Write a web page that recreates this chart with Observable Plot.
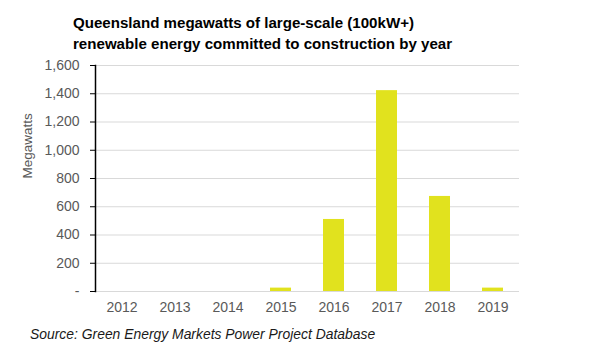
<!DOCTYPE html>
<html>
<head>
<meta charset="utf-8">
<script src="https://cdn.jsdelivr.net/npm/d3@7"></script>
<script src="https://cdn.jsdelivr.net/npm/@observablehq/plot@0.6"></script>
<style>
  html, body { margin: 0; padding: 0; background: #fff; }
  #wrap { position: relative; width: 600px; height: 359px; overflow: hidden; font-family: "Liberation Sans", Arial, sans-serif; }
  #title { position: absolute; left: 73px; top: 12px; font-weight: bold; font-size: 15.1px; line-height: 21px; color: #000; white-space: nowrap; }
  #caption { position: absolute; left: 30px; top: 326px; font-style: italic; font-size: 13.9px; color: #1a1a1a; white-space: nowrap; }
  #chart { position: absolute; left: 0; top: 0; }
</style>
</head>
<body>
<div id="wrap">
  <div id="chart"></div>
  <div id="title">Queensland megawatts of large-scale (100kW+)<br>renewable energy committed to construction by year</div>
  <div id="caption">Source: Green Energy Markets Power Project Database</div>
</div>
<script>
const years = ["2012", "2013", "2014", "2015", "2016", "2017", "2018", "2019"];
const megawatts = [0, 0, 0, 24, 510, 1422, 673, 24];
const yTicks = [0, 200, 400, 600, 800, 1000, 1200, 1400, 1600];
const yLabel = "Megawatts";

const data = years.map((y, i) => ({year: y, mw: megawatts[i]}));
const fmt = d => d === 0 ? "-" : d3.format(",")(d);

const chart = Plot.plot({
  width: 600,
  height: 359,
  marginTop: 65,
  marginBottom: 68,
  marginLeft: 95,
  marginRight: 81,
  style: {fontFamily: "'Liberation Sans', Arial, sans-serif", background: "transparent"},
  x: {domain: years, paddingInner: 0.6, paddingOuter: 0.3, align: 0.5, label: null},
  y: {domain: [0, 1600], label: null},
  marks: [
    Plot.gridY(yTicks, {stroke: "#d9d9d9", strokeOpacity: 1, strokeWidth: 1.2}),
    Plot.barY(data, {x: "year", y: "mw", fill: "#e1e21e"}),
    Plot.axisX({tickSize: 0, tickPadding: 11, fontSize: 14, fill: "#595959", label: null}),
    Plot.axisY(yTicks, {tickSize: 5, tickPadding: 11, fontSize: 14, fill: "#595959", stroke: "#000", strokeOpacity: 1, tickFormat: fmt, label: null}),
    Plot.frame({anchor: "left", stroke: "#000", strokeWidth: 1.5}),
    Plot.text([yLabel], {frameAnchor: "left", dx: -68, rotate: -90, fontSize: 13.5, fill: "#595959", y: [800]})
  ]
});
document.getElementById("chart").appendChild(chart);
</script>
</body>
</html>
